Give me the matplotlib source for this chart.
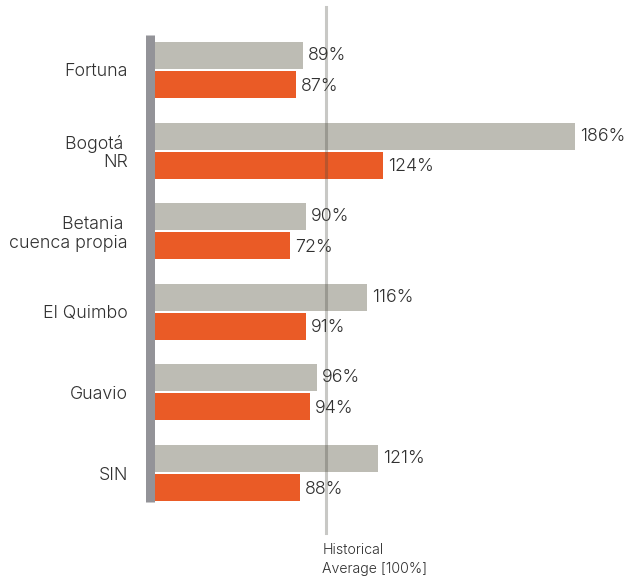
import matplotlib
matplotlib.use("Agg")
import matplotlib.pyplot as plt
import matplotlib.transforms as mtransforms

plt.rcParams['font.family'] = ['Inter', 'DejaVu Sans']
plt.rcParams['font.weight'] = 300

# ---- data ----
categories = ["Fortuna", "Bogotá \nNR", "Betania \ncuenca propia", "El Quimbo", "Guavio", "SIN"]
# bar lengths as drawn in the picture (in % of the historical average line)
gray_lengths = [86.7, 246.0, 88.5, 124.2, 94.7, 130.6]
orange_lengths = [82.6, 133.6, 79.1, 88.5, 90.8, 84.9]
# labels printed next to the bars
gray_labels = ["89%", "186%", "90%", "116%", "96%", "121%"]
orange_labels = ["87%", "124%", "72%", "91%", "94%", "88%"]
reference_value = 100
reference_label = "Historical\nAverage [100%]"

GRAY = "#bdbcb4"
ORANGE = "#ea5b26"
SPINE = "#939398"
TEXT = "#303030"

W, H = 627, 585
fig = plt.figure(figsize=(W / 100, H / 100), dpi=100)
left_px, top_px, bot_px = 149.5, 35, 502
ax = fig.add_axes([left_px / W, (H - bot_px) / H, 1 - left_px / W, (bot_px - top_px) / H])

px_per_unit = 1.707
pitch = 80.6
ypos = list(range(len(categories)))
bh = 27 / pitch
off = 14.5 / pitch

ax.barh([y - off for y in ypos], gray_lengths, height=bh, color=GRAY, zorder=2)
ax.barh([y + off for y in ypos], orange_lengths, height=bh, color=ORANGE, zorder=2)

for y, v, lab in zip(ypos, gray_lengths, gray_labels):
    ax.annotate(lab, (v, y - off), xytext=(3.6, 0), textcoords="offset points",
                va="center", ha="left", fontsize=12.8, color=TEXT, fontweight=300)
for y, v, lab in zip(ypos, orange_lengths, orange_labels):
    ax.annotate(lab, (v, y + off + 0.02), xytext=(3.6, 0), textcoords="offset points",
                va="center", ha="left", fontsize=12.8, color=TEXT, fontweight=300)

ax.set_xlim(-5.5 / px_per_unit, -5.5 / px_per_unit + (W - left_px) / px_per_unit)
ax.set_ylim(5 + (bot_px - 473) / pitch, -(70 - top_px) / pitch)

ax_h = bot_px - top_px
ax.axvline(reference_value, ymin=(bot_px - 533) / ax_h, ymax=(bot_px - 7) / ax_h,
           color="#4a4a40", alpha=0.3, lw=2.2, clip_on=False, zorder=3)

trans = mtransforms.blended_transform_factory(ax.transData, ax.transAxes)
shifted = trans + mtransforms.ScaledTranslation(-3.5 / 100, 0, fig.dpi_scale_trans)
ax.text(reference_value, (bot_px - 543) / ax_h, reference_label, transform=shifted,
        ha="left", va="top", fontsize=10.2, color=TEXT, linespacing=1.5,
        clip_on=False, fontweight=300)

ax.set_yticks(ypos)
ax.set_yticklabels(categories, fontsize=12.8, color=TEXT, linespacing=1.1, ha="right",
                   fontweight=300)
ax.tick_params(axis="y", length=0, pad=15.5)
ax.set_xticks([])

for s in ["top", "right", "bottom"]:
    ax.spines[s].set_visible(False)
ax.spines["left"].set_color(SPINE)
ax.spines["left"].set_linewidth(9 * 0.72)
ax.spines["left"].set_capstyle("butt")
ax.patch.set_alpha(0)

fig.savefig("out.png", dpi=100)
